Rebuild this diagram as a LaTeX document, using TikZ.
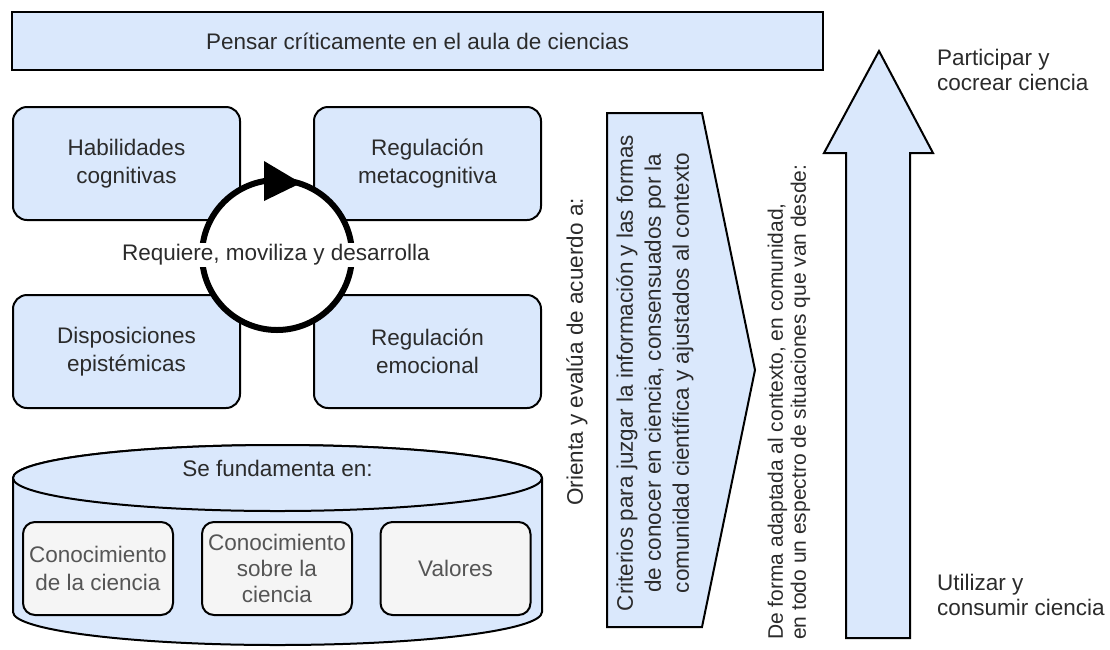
\documentclass[tikz,border=0pt]{standalone}
\usepackage{fontspec}
\setmainfont{Liberation Sans}
\definecolor{boxblue}{HTML}{DAE8FC}
\definecolor{txt}{HTML}{2B2B2B}
\definecolor{graybox}{HTML}{F5F5F5}
\definecolor{graytxt}{HTML}{555555}
\tikzset{
  bluebox/.style={draw=black, line width=2pt, rounded corners=14pt, fill=boxblue,
    minimum width=227pt, minimum height=113pt, align=center, text=txt},
  greybox/.style={draw=black, line width=2pt, rounded corners=12pt, fill=graybox,
    minimum width=150pt, minimum height=93pt, align=center, text=graytxt, inner sep=0pt},
  shapeline/.style={draw=black, line width=2pt, fill=boxblue},
  plain/.style={text=txt, inner sep=0pt},
}
\begin{document}
\begin{tikzpicture}[x=1pt,y=-1pt, font=\fontsize{22.5}{28}\selectfont]
\fill[white] (0,0) rectangle (1110,649);
\useasboundingbox (0,0) rectangle (1110,649);

% top title box
\node[draw=black, line width=2.5pt, fill=boxblue, minimum width=811pt, minimum height=58pt, text=txt]
  (title) at (417.5,41) {Pensar críticamente en el aula de ciencias};

% four boxes
\node[bluebox] (hab)  at (126.5,163.5) {Habilidades\\cognitivas};
\node[bluebox] (regm) at (427.5,163.5) {Regulación\\metacognitiva};
\node[bluebox] (disp) at (126.5,351.5) {Disposiciones\\epistémicas};
\node[bluebox] (rege) at (427.5,351.5) {Regulación\\emocional};

% cycle
\node[circle, draw=black, line width=6pt, fill=white, minimum size=150pt, inner sep=0pt] (cyc) at (277,255) {};
\fill[black] (264,161) -- (301,183) -- (264,201) -- cycle;
\node[plain, fill=white, inner sep=1.5pt] (req) at (276,255) {Requiere, moviliza y desarrolla};

% cylinder
\filldraw[shapeline] (13,478) -- (13,612) arc[start angle=180, end angle=0, x radius=264.5, y radius=33]
   -- (542,478) arc[start angle=0, end angle=-180, x radius=264.5, y radius=33] -- cycle;
\filldraw[shapeline] (277.5,478) ellipse[x radius=264.5, y radius=33];
\node[plain] (fund) at (277.5,468) {Se fundamenta en:};
\node[greybox] (c1) at (98,568.5) {Conocimiento\\de la ciencia};
\node[greybox, font=\fontsize{22.5}{26}\selectfont] (c2) at (277,568.5) {Conocimiento\\sobre la\\ciencia};
\node[greybox] (c3) at (455.5,568.5) {Valores};

% orienta text
\node[plain, rotate=90] (ori) at (577,352) {Orienta y evalúa de acuerdo a:};

% criterios chevron
\filldraw[shapeline] (607,113) -- (702,113) -- (755,370) -- (702,627) -- (607,627) -- cycle;
\node[plain, rotate=90, align=center] (crit) at (655,373)
  {Criterios para juzgar la información y las formas\\de conocer en ciencia, consensuados por la\\comunidad científica y ajustados al contexto};

% de forma text
\node[plain, rotate=90, anchor=west, align=left, font=\fontsize{21}{23}\selectfont] (forma) at (789,640)
  {De forma adaptada al contexto, en comunidad,\\en todo un espectro de situaciones que van desde:};

% big arrow
\filldraw[shapeline] (879,51) -- (933,153) -- (910,153) -- (910,638) -- (846,638) -- (846,153) -- (824,153) -- cycle;

\node[plain, anchor=west, align=left, font=\fontsize{22.5}{25}\selectfont] (part) at (937,70) {Participar y\\cocrear ciencia};
\node[plain, anchor=west, align=left, font=\fontsize{22.5}{25}\selectfont] (util) at (937,595) {Utilizar y\\consumir ciencia};
\end{tikzpicture}
\end{document}
